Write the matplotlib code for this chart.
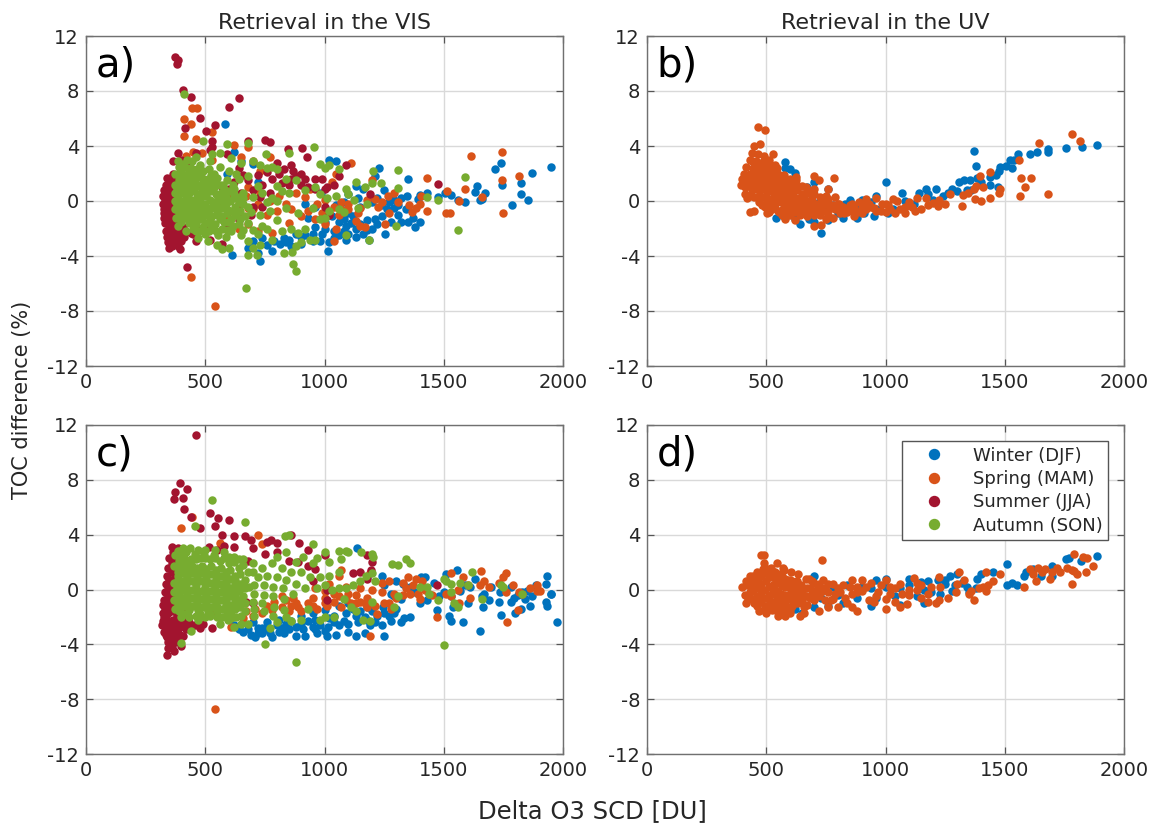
#!/usr/bin/env python3
"""
TOC difference vs delta O3 SCD, per season, VIS and UV retrievals.
"""

import matplotlib
matplotlib.use("Agg")
import matplotlib.pyplot as plt
import numpy as np

plt.rcParams["axes.unicode_minus"] = False

SEASONS = ["Winter (DJF)", "Spring (MAM)", "Summer (JJA)", "Autumn (SON)"]
COLORS = ["#0072BD", "#D95319", "#A2142F", "#77AC30"]
X_TICKS = [0, 500, 1000, 1500, 2000]
Y_TICKS = [-12, -8, -4, 0, 4, 8, 12]
PANEL_LABELS = ["a)", "b)", "c)", "d)"]
TITLES = ["Retrieval in the VIS", "Retrieval in the UV"]

# Points (delta SCD, TOC difference)
a_winter = [(584,5.6),(1950,2.45),(1870,2.05),(1740,2.75),(1715,2.35),(1745,1.2),(1823,1.3),(1825,0.5),(1855,0.1),(1787,-0.3),
    (1640,1.1),(1630,0.65),(1675,0.55),(1660,0.15),(1650,0.05),(1560,0.1),(1590,-0.1),(1530,0.45),(1505,0.55),(1475,0.3),
    (1430,0.55),(1400,0.45),(1390,0.15),(1345,0.35),(1320,0.25),(1290,0.1),(1270,-0.1),(1290,-0.5),(1340,-0.6),(1310,-1.0),
    (1370,-1.2),(1379,-1.9),(1400,-1.5),(1350,-1.5),(1253,-2.4),(1187,-2.8),(1015,-3.65),(729,-4.35),(613,-3.9),(813,-3.1),
    (1092,-2.8),(1230,2.4),(1210,1.8),(1350,1.6),(1160,0.9),(1130,1.1),(1050,2.9),(1020,3.0),(620,3.6),(650,2.9),
    (700,2.7),(590,2.0),(720,1.4),(1250,0.8),(1200,-0.1),(1150,-0.4),(1100,-0.9),(1180,-1.4),(1240,-1.1),(1130,-2.0),
    (1080,-2.2),(1040,-2.7),(990,-2.4),(950,-2.9),(900,-3.1),(860,-3.3),(830,-2.7),(780,-3.6),(760,-3.2),(720,-3.8),
    (680,-3.4),(1000,-1.5),(1060,-1.5),(960,-1.9),(930,-1.2),(1110,-1.6),(1200,-2.0),(1280,-1.5),(1000,-0.8),(1050,-0.3),
    (985,0.6),(1100,0.5),(1160,-2.4),(880,-2.4),(1020,-3.0),(1130,-2.6),(1080,-1.3),(1320,-1.5),(1220,-1.7),
    (700,-2.9),(740,-2.7),(790,-2.9),(850,-2.8),(920,-2.5),(980,-2.9),(1040,-2.2),(1090,-1.8),(1150,-1.7),(1210,-1.3),
    (1260,-0.6),(1120,-1.1),(1000,-2.0),(950,-2.4),(900,-2.6),(1060,-2.5),(1100,-2.4),(1180,-2.1),(840,-3.0),(1030,-1.1),
    (960,-0.4),(920,-0.2),(1080,-0.1),(1140,0.2),(1220,0.2),(1310,-0.3),(1240,-0.3)]
a_spring = [(1745,3.55),(1615,3.25),(1815,1.8),(1745,1.5),(1750,-0.85),(1660,0.3),(1590,0.9),(1515,0.7),(1510,-0.9),(1525,-0.9),
    (1565,0.0),(1430,1.65),(1405,0.4),(1430,-0.7),(1400,-0.2),(1385,-0.5),(1365,-0.8),(1355,-0.3),(1290,0.55),(1265,0.4),
    (1310,-0.05),(1240,-0.1),(1210,0.15),(1225,-0.4),(1270,-0.9),(1255,-1.65),(1200,1.5),(1180,0.1),(1150,-0.5),(1100,-0.6),
    (1075,-0.8),(1060,-1.0),(1130,-1.45),(1170,-1.9),(1150,-1.8),(1040,-2.9),(540,-7.6),(440,-5.5),(445,6.75),(465,6.8),
    (410,6.0),(440,5.6),(530,5.0),(410,4.7),(460,4.5),(620,4.1),(680,3.9),(450,3.6),(485,3.5),(420,3.3),(530,3.0),
    (700,2.9),(650,3.2),(730,2.2),(770,3.2),(680,1.0),(700,-0.6),(760,-1.0),(800,-0.7),(840,-0.2),(880,0.6),(920,0.3),
    (960,-1.3),(990,-0.9),(1020,-0.9),(1040,-0.4),(1000,0.1),(1070,-0.6),(1000,-1.7),(1050,-2.0),(850,-1.6),(780,-2.3),
    (720,-2.2),(900,-1.1),(640,-0.9),(600,0.3),(1110,2.8),(1050,2.0),(1030,1.4),
    (640,-0.2),(680,-0.5),(720,-0.2),(670,0.4),(730,0.6),(770,0.0),(810,0.4),(620,0.6),(590,-1.1),(560,-0.4),
    (860,-0.6),(930,-0.7),(1100,-0.2),(1070,-0.1),(1140,-0.9),(640,-2.0),(680,-1.7),(940,0.9),(970,-0.2)]
a_summer = [(375,10.5),(385,10.25),(380,10.0),(405,8.1),(440,7.6),(640,7.5),(600,6.85),(478,6.05),(540,5.5),(415,5.3),
    (505,5.1),(530,4.4),(530,3.9),(520,3.7),(460,3.5),(750,4.45),(770,4.3),(845,3.8),(905,3.85),(925,3.2),(680,4.4),
    (590,3.4),(1090,2.6),(1475,1.25),(1190,0.5),(395,-3.5),(350,-3.4),(425,-4.8),(385,3.5),(365,2.9),(400,3.0),(640,2.4),
    (800,2.8),(860,2.6),(1010,1.0),(1060,1.8),(1040,1.2),(900,2.0),(860,1.6),(820,1.3),(780,1.6),(740,1.2),(960,1.6),
    (990,1.6),(1000,0.9),(960,0.9),(920,1.6),(880,1.8),(850,1.2),(810,2.0),(770,0.6),(730,0.3),(700,-0.4),(650,0.6),
    (620,1.4),(600,0.9),(570,1.0),(680,1.5),(1000,-0.4),(1020,-1.0),(460,-2.9),(520,-2.8),(570,-3.1),(450,-2.4),
    (900,1.2),(930,1.0),(870,2.2),(830,2.3),(760,2.1),(720,1.9),(660,1.9),(700,0.8),(740,-0.4),(640,-0.7),(690,-1.0),
    (325,-0.6),(335,1.2),(345,0.8),(340,0.3),(330,0.1),(335,-0.2),(325,-0.9),(340,-1.3),(330,-1.6),(345,-2.1),
    (340,-2.6),(355,-3.0),(360,-3.3),(350,1.5),(365,2.0),(355,1.1),(360,0.5),(350,0.0),(360,-0.4),(350,-0.8),
    (360,-1.2),(350,-1.7),(365,-2.0),(355,-2.4),(370,-2.7),(375,-3.1),(385,-3.3),(380,1.8),(380,1.0),(375,0.2),
    (385,-0.5),(375,-1.0),(385,-1.5),(380,-2.0),(390,-2.5),(400,-2.9),(410,-2.6),(405,-1.9),(400,-1.2),(405,2.5),
    (430,2.6),(440,-2.3),(475,-2.0),(500,-1.8),(590,-1.8),(640,-1.4),(322,-0.2),(322,0.4),(328,0.8),(335,-2.2),(328,-1.2),
    (340,1.7),(345,-0.3),(338,-0.9),(352,-1.4),(345,-3.0),(365,-2.5),(360,0.8),(370,-0.1),(370,1.4),(368,-0.7),(372,-1.6),(378,-2.4),(395,-2.1)]
a_autumn = [(410,7.75),(490,4.35),(590,4.15),(680,4.25),(955,3.9),(850,3.5),(755,3.4),(670,-6.3),(870,-4.6),(880,-5.1),
    (1560,-2.1),(1590,1.75),(1310,2.25),(1205,2.2),(1475,0.1),(1430,0.3),(1310,0.95),(1300,-1.8),(1235,1.3),(1200,1.3),
    (1185,-2.8),(1090,-2.5),(1170,1.0),(1130,1.4),(1125,0.1),(1180,-0.2),(1140,-0.5),(1080,-0.8),(1060,-0.6),(1050,0.4),
    (1060,2.3),(1020,2.6),(980,2.7),(1000,2.4),(1090,0.9),(1100,0.5),(1010,0.2),(980,0.5),(960,1.0),(920,0.8),
    (950,-0.5),(890,-0.9),(850,0.6),(820,0.7),(800,1.1),(780,2.5),(800,2.3),(760,2.4),(730,2.6),(700,2.9),
    (650,2.8),(610,3.1),(560,3.5),(530,3.4),(520,2.9),(960,-2.8),(900,-3.0),(880,-3.3),(940,-2.8),(830,-3.8),
    (865,-3.7),(715,-3.9),(680,-3.9),(700,-3.4),(730,-3.2),(780,-2.8),(820,-2.2),(860,-2.0),(890,-2.3),(920,-2.0),
    (980,-1.3),(1000,-1.2),(1020,-0.7),(760,-2.0),(720,-2.4),(680,-2.9),(650,-2.5),(600,-3.4),(570,-3.5),(550,-3.2),
    (510,-2.9),(470,-2.7),(420,-2.2),(385,-1.8),(690,-0.8),(730,-1.0),(770,-0.7),(800,-1.4),(840,-0.5),(780,0.2),
    (740,0.6),(700,0.3),(660,0.6),(620,0.9),(880,1.5),(840,1.6),(800,0.0),(760,-0.1),(720,1.1),(680,1.8),(640,1.6),
    (740,-1.8),(700,-2.1)]
a_autumn_core = [(385,2.9),(425,3.0),(460,3.2),(400,2.2),(440,2.4),(480,2.6),(515,2.3),(560,2.5),(600,2.2),(390,1.5),(430,1.7),
    (470,1.8),(510,1.6),(550,1.7),(590,1.5),(380,0.9),(420,1.0),(460,1.1),(500,1.0),(540,1.1),(580,0.9),(620,0.2),
    (385,0.3),(425,0.4),(465,0.5),(505,0.4),(545,0.5),(585,0.3),(380,-0.3),(420,-0.2),(460,-0.1),(500,-0.2),(540,-0.1),
    (580,-0.3),(625,-0.4),(660,-0.2),(390,-0.9),(430,-0.8),(470,-0.7),(510,-0.8),(550,-0.7),(590,-0.9),(630,-1.0),(665,-1.1),
    (400,-1.5),(440,-1.4),(480,-1.3),(520,-1.4),(560,-1.3),(600,-1.5),(640,-1.7),(680,-1.6),(450,-2.0),(490,-1.9),(530,-2.0),
    (570,-2.0),(610,-2.2),(555,-2.5),(585,-2.6),(375,2.0),(375,1.2),(372,0.6),(372,0.0),(375,-0.6),(378,-1.2),(405,2.7),(405,1.9),
    (400,1.2),(400,0.6),(400,-0.1),(405,-0.6),(410,-1.1),(445,2.9),(450,2.0),(445,1.4),(440,0.7),(445,0.1),(440,-0.5),(450,-1.1),
    (460,-1.7),(490,2.2),(490,1.3),(485,0.7),(480,0.1),(485,-0.5),(490,-1.1),(525,1.9),(525,1.3),(520,0.7),(520,0.1),(525,-0.5),
    (530,-1.1),(540,-1.7),(560,1.2),(565,0.6),(560,0.1),(565,-0.5),(570,-1.1),(600,0.7),(605,0.0),(605,-0.7),(610,-1.3),(645,0.3),
    (645,-0.7),(645,-1.3),(630,2.0),(660,-2.1),(500,-2.4),(460,-2.2),
    (388,2.5),(415,2.5),(432,2.1),(465,2.3),(388,1.9),(412,1.5),(455,1.5),(488,1.7),(535,2.0),(388,1.1),(410,0.7),(432,1.2),(478,1.2),
    (512,1.2),(535,1.4),(575,1.2),(390,0.6),(413,0.1),(432,0.6),(452,0.8),(473,0.3),(495,0.6),(532,0.8),(552,0.3),(575,0.5),(385,-0.1),
    (410,-0.4),(432,0.1),(452,-0.3),(472,-0.4),(495,-0.5),(530,-0.4),(552,-0.4),(590,-0.1),(385,-0.6),(415,-0.8),(432,-0.5),(452,-0.8),
    (478,-1.0),(498,-1.0),(518,-1.1),(552,-1.0),(590,-0.6),(393,-1.2),(420,-1.2),(432,-1.6),(462,-1.2),(500,-1.6),(520,-1.7),(580,-1.5),
    (475,-2.2),(515,-2.2),(545,-2.2),(590,-2.1),(615,-1.8),(620,-0.8),(620,0.5),(615,1.2),(640,-0.1),(660,0.2),(680,-0.4)]

b_winter = [(1885,4.05),(1825,3.9),(1755,3.85),(1680,3.75),(1680,3.55),(1635,3.6),(1605,3.4),(1555,3.45),(1370,3.65),
    (1380,2.55),(1505,2.55),(1540,2.95),(1520,2.95),(1480,2.5),(1530,2.4),(1475,2.2),(1465,1.9),(1440,1.75),(1385,1.7),(1355,1.55),
    (1330,1.55),(1310,1.4),(1400,1.4),(1440,1.2),(1470,1.0),(1360,0.8),(1280,0.9),(1210,0.9),(1170,0.85),(1140,0.6),
    (1070,0.6),(1000,1.4),(960,0.35),(900,0.1),(580,2.85),(580,2.4),(620,2.05),(600,2.3),(670,1.0),(700,1.35),(760,0.85),
    (730,-2.35),(540,-1.25),(580,-1.15),(640,-1.65),(680,-1.3),(760,-1.35),(820,-1.2),(880,-1.2),(950,-1.1),(1010,-0.9),
    (760,-0.6),(830,-0.2),(880,-0.5),(960,-0.6),(1030,-0.6),(1080,0.0),(1120,-0.2),(1180,0.5),(1260,0.6),(1300,0.7),
    (1340,0.8),(1240,0.4),(1200,0.1),(620,-1.3),(700,-1.5),(800,-0.9),(910,-0.9),(720,-0.1),(780,-0.3),(850,0.1),(940,-0.1)]
b_spring = [(465,5.4),(495,5.15),(475,4.15),(1782,4.87),(1815,4.35),(1643,4.2),(1560,2.95),(1610,1.65),(1680,0.5),(1565,0.35),
    (1570,1.7),(1585,1.0),(1440,2.1),(1395,1.8),(1480,0.9),(1475,0.6),(1440,0.2),(1400,0.0),(1375,0.15),(1320,-0.35),
    (1345,0.6),(1325,0.45),(1270,0.5),(1370,0.85),(1410,1.0),(1380,1.1),(1225,0.05),(1250,-0.2),(1220,-0.35),(1200,-0.15),
    (1180,-0.3),(1150,-0.6),(1125,-0.75),(1170,0.2),(1130,0.2),(1100,-0.1),(1080,-0.9),(1060,-0.55),(1040,-0.9),(1020,-0.55),
    (1000,-0.2),(1050,0.0),(1030,0.15),(980,-0.7),(960,0.2),(920,0.15),(890,-0.1),(850,-0.65),(820,-0.4),(870,-1.1),
    (790,0.3),(810,-0.9),(760,-1.0),(730,-1.75),(700,-1.8),(640,-0.3),(665,1.0),(800,-0.2),(760,0.15),(670,-1.1),
    (620,-1.4),(580,-1.3),(625,1.75),(700,1.85),(720,1.55),(785,1.65),(760,0.85),(700,0.9),(750,0.4),(690,0.4),
    (650,0.5),(610,0.7),(735,-0.7),(700,-0.6),(660,-0.7),(600,-0.8),(680,-0.1),(640,-1.0),(780,-1.2),(850,-0.3),(920,-0.6),
    (940,-0.4),(900,-0.5),(985,-0.2),(1080,-0.4),(1110,-0.4),(1000,-0.8),(735,0.0),(760,-0.3),(810,-0.5),(830,-0.6),(860,-0.2),(910,-0.2),(950,-0.5),(1010,-0.3)]
b_spring_core = [(395,1.2),(405,2.0),(410,0.5),(400,1.6),(415,2.5),(425,1.1),(430,3.0),(440,3.5),(450,4.0),(420,0.2),(430,-0.8),
    (445,2.4),(455,1.7),(440,0.8),(460,0.3),(450,-0.7),(465,3.4),(475,2.8),(480,1.3),(470,2.1),(475,0.8),(470,-0.1),
    (490,3.3),(495,2.5),(500,1.8),(490,1.0),(500,0.4),(495,-0.4),(510,3.0),(520,2.2),(515,1.4),(520,0.7),(515,-0.2),(510,-0.8),
    (530,3.4),(535,2.6),(540,1.8),(535,1.1),(540,0.4),(535,-0.5),(550,2.0),(560,1.3),(555,0.6),(560,-0.1),(555,-0.8),
    (575,1.9),(580,1.0),(575,0.3),(580,-0.4),(575,-1.1),(600,1.6),(605,0.9),(600,0.2),(605,-0.5),(600,-1.0),
    (625,1.5),(630,0.8),(625,0.1),(630,-0.5),(650,1.1),(655,0.2),(650,-0.6),(675,0.8),(680,0.0),(675,-0.8),
    (700,0.5),(710,-0.2),(725,0.3),(740,-0.3),(725,-1.0),(750,-1.3),(770,-0.5),(790,-0.6),(840,-0.8),(870,-0.5),(900,-0.9),
    (420,1.6),(430,2.0),(445,1.3),(410,1.0),(455,2.9),(460,0.9),(480,1.8),(485,0.3),(505,2.1),(510,1.1),(525,1.8),(530,0.2),
    (545,1.4),(545,0.9),(565,0.8),(570,-0.6),(590,0.6),(590,-0.1),(615,0.3),(615,-0.8),(640,0.2),(660,0.2),(660,-0.3),(690,-0.5),(715,-0.6),
    (405,1.3),(415,1.9),(430,0.4),(435,1.5),(440,2.0),(440,2.9),(450,0.3),(455,1.1),(465,2.5),(470,1.6),(470,0.4),(482,2.3),(482,0.9),(482,-0.3),
    (490,2.9),(495,1.4),(505,0.8),(505,0.0),(505,-0.9),(518,2.6),(525,1.0),(525,-0.6),(545,2.4),(545,0.2),(545,-0.1),(548,-0.7),(565,1.6),(568,0.2),
    (568,-1.0),(585,1.4),(590,0.2),(590,-0.8),(610,1.3),(612,-0.2),(635,1.1),(640,-0.7),(665,0.6),(665,-0.5),(690,0.7),(690,0.0),(700,-1.0),(720,-0.2),
    (745,0.2),(755,-0.8),(780,-0.3),(805,-0.2),(825,-0.9),(880,-0.8),(930,-0.2),(960,-0.7)]

c_winter = [(1950,-0.3),(1935,1.0),(1930,0.4),(1890,0.05),(1930,-0.9),(1935,-1.2),(1950,-0.3),(1975,-2.4),(1870,-0.5),(1810,-0.4),
    (1795,-0.6),(1825,-1.4),(1800,-1.75),(1740,-1.85),(1730,-0.9),(1665,-1.3),(1660,-0.5),(1650,-3.05),(1580,-2.35),
    (1555,1.4),(1630,0.8),(1610,0.2),(1530,-0.5),(1520,-1.9),(1530,-2.3),(1470,-1.5),(1420,0.9),(1405,0.9),(1510,1.1),
    (1380,-0.2),(1400,-1.0),(1320,-0.7),(1290,-0.5),(1360,-2.0),(1335,-2.05),(1290,-1.7),(1250,-1.7),(1250,-3.4),
    (1220,-1.9),(1170,-2.0),(1130,-1.9),(1090,-1.7),(1140,-2.4),(1060,-2.6),(1040,-2.4),(1010,-3.4),(970,-3.2),(920,-3.4),
    (880,-3.4),(830,-3.2),(780,-3.5),(710,-3.5),(690,-3.3),(720,-2.8),(760,-2.9),(800,-2.6),(850,-2.9),(900,-2.5),
    (950,-2.7),(1000,-3.0),(1050,-3.3),(1130,-3.4),(1170,-3.2),(1240,-2.6),(1280,-2.3),(1320,-2.4),(1190,-2.6),(1100,-3.1),
    (1020,-2.1),(960,-2.2),(860,-2.3),(810,-3.1),(740,-3.2),(1180,-1.3),(1300,0.6),(1250,0.3),(1280,-0.3),(1330,0.4),
    (1360,0.2),(1240,1.0),(1180,0.9),(1135,3.0),(1100,-1.0),(1060,-1.2),(1000,-1.5),(950,-1.7),(900,-1.9),(1120,-1.4),
    (1460,0.5),(1480,-0.5),(1430,-0.8),(1500,-0.2),(1570,-0.1),(1590,0.3),(1670,-0.3),(1700,0.2),(1735,-0.2),(1830,-0.2),
    (1780,-0.9),(1840,-0.7),(1860,-1.2),(1540,-1.3),(1600,-1.0),(1690,-0.8),(1780,0.2),(1885,0.3),(1850,-0.1),
    (700,-2.4),(760,-2.4),(810,-2.2),(740,-2.8),(680,-2.9),(660,-3.1),(840,-2.5),(880,-2.7),(930,-2.3),(980,-2.6),(1080,-2.3),
    (1040,-1.9),(1100,-2.5),(1180,-2.2),(1210,-2.4),(1270,-1.9),(1300,-1.4),(620,-2.6),(640,-2.9),(720,-3.2),(770,-3.2),
    (820,-2.8),(960,-2.9),(910,-2.9),(1015,-2.7),(1150,-1.6),(1200,-1.6),(1245,-1.3)]
c_spring = [(540,-8.75),(445,5.3),(400,4.5),(720,4.0),(560,3.4),(740,3.3),(1655,1.35),(1760,1.2),(1530,1.2),(1070,1.4),
    (1190,1.2),(1200,0.0),(1240,-0.2),(1290,-0.3),(1330,0.5),(1350,0.9),(1385,0.8),(1410,0.6),(1420,0.0),(1450,-0.4),(1390,-0.3),
    (1360,-0.3),(1300,-0.6),(1270,-1.0),(1580,0.9),(1600,0.3),(1560,0.0),(1610,-0.6),(1650,0.3),(1670,0.6),(1690,0.2),
    (1730,0.5),(1750,0.9),(1790,0.3),(1760,-0.2),(1815,-0.2),(1890,0.3),(1890,-0.1),(1860,0.1),(1905,-0.1),(1830,-0.3),
    (1810,-1.5),(1765,-2.35),(1470,-2.0),(1565,-1.0),(1530,-0.5),(1510,-0.3),(1190,-3.4),(1220,-1.8),(1280,-1.4),(1180,-1.3),
    (1130,-1.0),(1090,-0.7),(1040,-0.3),(1000,-0.1),(1090,0.2),(1060,-0.5),(1010,-1.2),(1130,-0.4),(1150,0.1),(1180,-0.6),
    (950,-0.6),(930,-1.0),(900,-1.6),(860,-1.2),(840,-0.8),(790,-0.9),(780,-1.5),(740,-1.7),(700,-1.9),(660,-2.1),
    (610,-2.7),(530,-1.6),(1020,0.4),(1060,1.0),(960,0.1),(1240,0.5),(1270,0.6),
    (1040,-0.9),(1000,-0.6),(1100,-0.3),(1150,-0.9),(1210,-1.2),(950,-1.2),(880,-1.0),(820,-1.3),(820,-0.5),(760,-1.2),
    (710,-1.4),(670,-1.6),(1330,-0.4),(1370,0.3),(1440,-0.3),(1400,-0.7),(1340,0.1),(1250,-1.0),(1170,-1.0),(1110,-1.0),
    (1070,-1.3),(1000,-1.0),(970,-1.4),(890,-1.3),(870,-0.6),(850,-1.6)]
c_summer = [(460,11.3),(395,7.75),(425,7.3),(375,7.1),(370,6.6),(405,6.7),(410,5.85),(440,5.3),(520,5.6),(600,5.05),(480,4.5),
    (540,4.6),(555,5.2),(570,4.0),(620,3.9),(580,3.2),(665,3.9),(690,3.6),(760,3.5),(775,3.6),(800,3.4),(860,4.0),
    (895,3.4),(930,2.9),(1000,2.5),(1180,2.5),(1200,2.0),(1195,1.4),(1150,1.3),(1120,1.2),(1180,0.8),(1470,0.3),
    (1010,0.0),(1010,-0.8),(950,0.6),(960,1.5),(930,1.7),(890,2.0),(850,2.1),(800,2.7),(750,2.6),(700,3.0),(680,2.1),
    (360,3.1),(385,3.0),(395,2.4),(515,3.1),(550,2.9),(620,3.1),(700,-1.0),(670,-0.9),(480,-2.8),(490,-2.5),(530,-2.8),
    (440,-2.7),(395,-3.3),(365,-3.6),(400,-4.1),(340,-4.8),(345,-4.3),(355,-3.9),(370,-4.5),
    (350,2.3),(345,1.6),(340,1.0),(335,0.4),(330,-0.2),(325,-0.8),(330,-1.4),(325,-2.0),(320,-2.6),(325,-3.1),(340,-3.5),
    (365,2.7),(360,1.9),(360,1.3),(350,0.7),(350,0.1),(345,-0.5),(345,-1.1),(345,-1.7),(345,-2.3),(345,-2.9),(360,-3.2),
    (375,2.0),(370,1.4),(370,0.8),(365,0.2),(365,-0.4),(365,-1.0),(365,-1.6),(365,-2.2),(370,-2.8),(385,-3.5),(385,-2.9),
    (385,-2.3),(385,-1.7),(390,-1.2),(390,-0.6),(410,-2.7),(415,-2.2),(410,-1.5),(455,-2.6),(322,-1.1),(322,-1.7),(322,-2.3),
    (335,-3.3),(345,-3.8),(360,-4.2),(375,-3.8),(405,-3.4),(332,-2.5),(335,-1.9),(335,-0.9),(340,-0.1),(352,-2.6),(355,-1.4),
    (358,-0.7),(358,-0.1),(355,0.5),(375,-3.3),(380,-2.6),(380,-1.9),(378,-0.8),(378,-0.1),(395,-2.5),(400,-1.9),(420,-2.9),(430,-2.4)]
c_autumn = [(530,6.5),(665,4.95),(455,4.6),(835,3.9),(850,3.95),(950,3.3),(1060,2.8),(1100,2.7),(1155,2.7),(1205,2.4),(1340,2.25),
    (1310,1.8),(1285,1.85),(1360,1.9),(1500,-4.05),(880,-5.3),(750,-4.0),(400,-3.9),(440,-3.0),(1620,1.25),(1500,0.8),(1510,0.6),
    (1530,0.4),(1400,0.2),(1290,-1.3),(1310,-0.5),(1430,0.2),(1440,-0.3),(1475,-0.8),(1545,-1.0),(1560,-1.3),(1660,-0.7),
    (1530,-0.2),(1570,0.5),(1600,0.3),(1750,0.2),(1740,0.3),(1830,-0.3),(1210,0.6),(1200,1.2),(1175,1.0),(1150,0.6),
    (1120,0.3),(1090,0.1),(1060,0.1),(1030,0.0),(1000,0.3),(970,0.1),(1200,-0.9),(1190,-2.3),(1160,-2.2),(1080,-0.7),
    (1130,-1.6),(1110,-1.3),(1040,-2.0),(1000,-2.0),(980,-2.2),(900,-2.2),(930,-1.4),(860,-2.3),(840,-2.0),(800,-2.4),
    (770,-2.8),(680,-2.5),(650,-2.5),(620,-2.7),(560,-2.5),(520,-1.9),(470,-2.2),
    (1200,2.6),(1090,2.8),(1070,2.2),(1000,2.7),(1020,2.0),(970,2.3),(950,1.9),(910,2.4),(880,2.0),(840,2.7),(800,2.4),
    (1060,1.3),(1020,1.0),(980,0.9),(940,0.9),(900,1.3),(860,1.3),(820,1.6),(780,1.9),(740,1.6),(700,1.9),(660,2.2)]
c_autumn_core = [(620,2.4),(580,2.7),(540,2.9),(500,2.9),(470,2.9),(435,3.0),(405,3.0),(400,2.5),
    (400,1.9),(440,2.2),(480,2.3),(520,2.2),(560,2.1),(600,1.9),(640,1.6),(680,1.3),(720,0.9),(760,1.0),(800,0.9),(840,0.7),(880,0.4),(920,0.1),
    (385,1.3),(425,1.5),(465,1.6),(505,1.5),(545,1.4),(585,1.3),(625,1.0),(665,0.7),(705,0.3),(745,0.3),(785,0.2),(825,0.1),(870,-0.3),
    (385,0.7),(425,0.9),(465,0.9),(505,0.8),(545,0.8),(585,0.7),(625,0.4),(665,0.1),(705,-0.3),(745,-0.4),(785,-0.5),(830,-0.7),
    (380,0.1),(420,0.3),(460,0.3),(500,0.2),(540,0.2),(580,0.1),(620,-0.2),(660,-0.5),(700,-0.9),(740,-1.0),(790,-1.3),(830,-1.5),
    (385,-0.5),(425,-0.3),(465,-0.3),(505,-0.4),(545,-0.4),(585,-0.5),(625,-0.8),(665,-1.0),(705,-1.4),(745,-1.6),(785,-1.9),
    (385,-1.1),(425,-0.9),(465,-0.9),(505,-1.0),(545,-1.0),(585,-1.1),(625,-1.4),(665,-1.6),(705,-1.9),
    (390,-1.6),(430,-1.5),(470,-1.5),(510,-1.6),(550,-1.6),(590,-1.7),(630,-2.0),(430,-2.0),(595,-2.2),
    (375,2.5),(410,2.3),(455,2.6),(495,2.5),(535,2.5),(580,2.3),(620,2.0),(660,1.8),(700,1.3),(370,1.7),(405,1.2),(445,1.2),
    (485,1.2),(525,1.1),(565,1.0),(605,0.8),(645,0.4),(685,0.2),(370,0.5),(405,0.6),(445,0.6),(485,0.6),(525,0.5),(565,0.4),
    (605,0.1),(640,-0.1),(370,-0.2),(405,0.0),(445,0.0),(485,-0.1),(525,-0.1),(565,-0.2),(605,-0.5),(645,-0.8),(370,-0.8),
    (405,-0.6),(445,-0.6),(485,-0.7),(525,-0.7),(565,-0.8),(605,-1.1),(645,-1.3),(375,-1.4),(410,-1.2),(450,-1.2),(490,-1.3),
    (530,-1.3),(570,-1.4),(610,-1.6),(400,-2.0),(460,-1.9),(500,-2.0),(550,-2.0),
    (385,2.8),(390,2.1),(420,2.7),(420,1.9),(460,2.2),(500,2.3),(540,2.3),(600,2.4),(640,2.2),(385,1.7),(405,1.6),(445,1.7),(485,1.7),(525,1.7),
    (565,1.6),(605,1.4),(645,1.1),(385,1.0),(425,1.2),(465,1.2),(505,1.2),(545,1.1),(585,1.0),(625,0.7),(660,0.4),(390,0.4),(425,0.6),(465,0.6),
    (505,0.5),(545,0.5),(585,0.4),(625,0.1),(390,-0.2),(425,0.0),(465,0.0),(505,-0.1),(545,-0.1),(585,-0.2),(625,-0.5),(395,-0.8),(425,-0.6),
    (465,-0.6),(505,-0.7),(545,-0.7),(585,-0.8),(625,-1.1),(395,-1.4),(430,-1.2),(470,-1.2),(510,-1.3),(550,-1.3),(590,-1.4),(650,-1.9),(415,-1.8),
    (480,-1.8),(520,-1.8),(570,-2.0),(610,-2.1)]

d_winter = [(1885,2.45),(1770,2.3),(1755,2.2),(1820,2.1),(1700,1.75),(1510,1.85),(1620,1.5),(1580,0.95),(1590,1.3),(1700,1.0),(1650,1.0),
    (1530,0.5),(1510,0.35),(1550,0.35),(1450,1.25),(1385,0.75),(1400,1.1),(1300,1.15),(1220,0.7),(1100,0.8),(1000,0.75),
    (960,0.7),(1270,1.0),(1250,0.7),(1180,0.6),(1150,0.55),(1290,0.3),(1250,0.4),(1280,-0.1),(1190,-0.2),(1160,0.0),
    (1100,0.3),(1060,0.1),(1000,0.2),(940,0.1),(900,0.2),(840,0.3),(780,0.2),(700,1.0),(1380,0.1),(1340,0.2),(1320,0.5),
    (1350,-0.2),(1230,-0.3),(1130,-0.5),(1040,-0.5),(960,-0.6),(880,-0.6),(820,-1.0),(760,-1.2),(700,-1.3),(650,-1.7),
    (620,-1.4),(940,-1.2),(1060,-1.1),(1160,-1.0),(800,-0.4),(730,-0.6)]
d_spring = [(480,2.55),(490,2.55),(735,2.15),(1790,2.6),(1830,2.35),(1845,2.3),(1870,1.75),(1840,1.3),(1805,1.15),(1790,1.35),
    (1760,1.55),(1730,1.3),(1700,1.3),(1670,1.5),(1640,1.55),(1605,1.5),(1620,1.15),(1655,1.25),(1720,1.6),(1780,1.45),
    (1630,0.6),(1580,0.2),(1690,0.75),(1780,0.4),(1480,1.1),(1420,1.3),(1310,1.25),(1225,0.9),(1120,0.85),(1000,0.7),
    (1450,0.6),(1430,0.35),(1410,0.2),(1420,-0.1),(1390,0.1),(1330,0.7),(1300,0.4),(1360,-0.1),(1350,-0.3),(1370,-0.8),
    (1295,-0.2),(1260,-0.6),(1210,-1.0),(1225,-0.8),(1180,-0.9),(1150,-0.6),(1100,-0.4),(1090,-1.05),(1060,-1.3),(1040,-0.9),
    (1000,-1.4),(960,-0.5),(930,-0.8),(880,-1.6),(860,-1.3),(880,-0.2),(840,-1.0),(800,-1.3),(760,-1.3),(720,-1.6),
    (1190,0.15),(1150,0.3),(1100,-0.05),(1060,0.4),(1020,0.2),(980,0.3),(940,0.5),(900,0.7),(860,0.7),(820,0.35),
    (1230,0.2),(1180,-0.3),(1130,0.0),(1070,-0.3),(1020,-0.3),(970,-0.2),(900,-0.1),(860,-0.3),(800,0.1),(760,-0.2),
    (720,0.4),(680,0.8),(640,0.2),(610,0.6),(1000,-0.7),(950,-0.9),(780,-0.7),(700,-0.8),(660,-1.7),(640,-1.9),
    (550,-1.9),(580,-1.9),(600,-1.7),(690,-0.3),(740,0.7),(580,0.8)]
d_spring_core = [(400,0.2),(430,1.0),(410,-0.4),(415,-1.0),(440,0.5),(445,-0.1),(440,-0.7),(460,1.3),(465,0.7),(470,0.1),(465,-0.5),(460,-1.2),(470,-1.6),
    (490,1.9),(495,1.2),(500,0.6),(495,0.0),(500,-0.6),(495,-1.2),(500,-1.7),(520,1.6),(525,0.9),(530,0.3),(525,-0.3),(530,-0.9),(525,-1.5),
    (545,1.9),(550,1.1),(555,0.5),(550,-0.1),(555,-0.7),(550,-1.3),(575,1.4),(580,0.2),(575,-0.4),(580,-1.0),(575,-1.6),(605,1.3),(610,-0.1),
    (605,-0.7),(610,-1.2),(635,1.1),(640,-0.5),(635,-1.0),(665,0.8),(670,0.1),(665,-0.5),(670,-1.1),(700,0.5),(705,-0.1),(730,-0.2),(760,0.4),
    (790,-0.3),(830,-0.6),(420,0.3),(430,-0.2),(445,1.0),(450,-1.0),(480,1.0),(480,0.4),(480,-0.2),(480,-0.9),(510,0.9),(510,0.2),(510,-0.5),(510,-1.2),(535,1.3),
    (540,0.7),(540,-0.4),(540,-1.1),(565,1.0),(565,0.3),(565,-0.5),(565,-1.2),(590,0.4),(590,-0.4),(590,-1.3),(620,0.2),(620,-0.5),(620,-1.0),
    (650,-0.2),(650,-0.8),(685,0.1),(685,-0.6),(720,-0.5),(745,-0.8),(770,-0.8),
    (415,0.6),(425,-0.7),(435,0.2),(450,0.8),(455,0.2),(455,-0.6),(470,1.0),(475,-0.7),(485,1.5),(490,-1.5),(505,1.5),(515,1.2),(515,-0.9),(530,1.3),
    (535,0.0),(545,-1.6),(555,0.9),(560,-0.3),(560,-0.9),(570,0.6),(570,1.6),(585,0.7),(585,-0.7),(600,0.7),(600,0.1),(600,-1.5),(630,0.6),(630,-0.2),
    (645,0.3),(660,-1.3),(690,0.6),(700,-0.5),(715,0.1),(745,0.1),(780,0.4),(810,-0.2),(850,0.2),(880,0.2),(920,0.2),(1040,0.1),(1130,0.5)]

PANELS = [
    [a_winter, a_spring, a_summer, a_autumn + a_autumn_core],
    [b_winter, b_spring + b_spring_core],
    [c_winter, c_spring, c_summer, c_autumn + c_autumn_core],
    [d_winter, d_spring + d_spring_core],
]

FIG_W, FIG_H = 1153, 823


def axes_box(left, top, right, bottom):
    return [left / FIG_W, 1 - bottom / FIG_H, (right - left) / FIG_W, (bottom - top) / FIG_H]


def plot_panels():
    fig = plt.figure(figsize=(FIG_W / 100, FIG_H / 100), dpi=100)
    boxes = [
        axes_box(86, 36, 563, 366),
        axes_box(647, 36, 1124, 366),
        axes_box(86, 425, 563, 754),
        axes_box(647, 425, 1124, 754),
    ]

    for i, (box, series) in enumerate(zip(boxes, PANELS)):
        ax = fig.add_axes(box)
        for pts, color in zip(series, COLORS):
            xs, ys = np.array(pts, dtype=float).T
            ax.scatter(xs, ys, s=37, color=color, linewidths=0, zorder=3)

        ax.set_xlim(0, 2000)
        ax.set_ylim(-12, 12)
        ax.set_xticks(X_TICKS)
        ax.set_yticks(Y_TICKS)
        ax.grid(True, color="#d9d9d9", linewidth=1.0, zorder=0)
        ax.set_axisbelow(True)
        ax.tick_params(direction="in", length=5, width=0.9, color="#555555", labelcolor="#262626",
                       labelsize=14, top=True, right=True, pad=5)
        for spine in ax.spines.values():
            spine.set_color("#707070")
            spine.set_linewidth(1.0)

        ax.text(0.02, 0.972, PANEL_LABELS[i], transform=ax.transAxes, fontsize=29, color="black",
                va="top", ha="left", zorder=5)
        if i < 2:
            ax.set_title(TITLES[i], fontsize=16, color="#262626", pad=5)

        if i == 3:
            handles = [plt.Line2D([], [], linestyle="none", marker="o", markersize=8.2,
                                  markerfacecolor=c, markeredgecolor="none", label=s)
                       for s, c in zip(SEASONS, COLORS)]
            leg = ax.legend(handles=handles, loc="upper right", bbox_to_anchor=(0.9665, 0.951), fontsize=13,
                            frameon=True, fancybox=False, framealpha=1, edgecolor="#555555",
                            labelspacing=0.3, handlelength=3.0, handletextpad=0.65, borderpad=0.3,
                            borderaxespad=0, labelcolor="#262626")
            leg.get_frame().set_linewidth(1.0)
            leg.set_zorder(6)

    fig.text(22 / FIG_W, 1 - 400 / FIG_H, "TOC difference (%)", rotation=90, fontsize=15, color="#262626",
             ha="center", va="center")
    fig.text(592 / FIG_W, 1 - 811 / FIG_H, "Delta O3 SCD [DU]", fontsize=17.5, color="#262626",
             ha="center", va="center")

    fig.savefig("out.png", dpi=100, facecolor="white")
    plt.close(fig)


if __name__ == "__main__":
    plot_panels()
